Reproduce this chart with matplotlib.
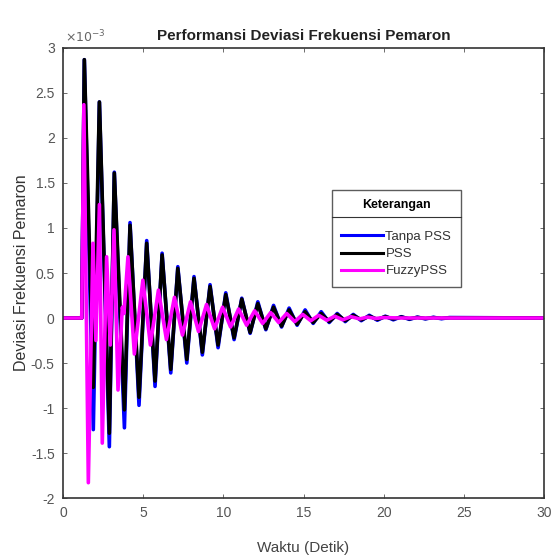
import matplotlib
matplotlib.use("Agg")
import matplotlib.pyplot as plt
from matplotlib.ticker import FuncFormatter
import numpy as np

# ---- data (values in units of 1e-3) ----
t_base = [0, 1.17, 1.33, 1.89, 2.27, 2.89, 3.20, 3.83, 4.18, 4.74, 5.22, 5.74, 6.18, 6.72,
          7.16, 7.72, 8.17, 8.69, 9.17, 9.67, 10.15, 10.67, 11.15, 11.67, 12.15, 12.65,
          13.13, 13.63, 14.10, 14.60, 15.10, 15.60, 16.10, 16.60, 17.10, 17.60, 18.10,
          18.60, 19.10, 19.60, 20.10, 20.60, 21.10, 21.60, 22.10, 22.60, 23.10, 23.60,
          24.10, 30.0]
tanpa_pss = [0, 0, 2.87, -1.24, 2.40, -1.43, 1.62, -1.22, 1.06, -0.97, 0.86, -0.76, 0.72, -0.61,
             0.57, -0.50, 0.46, -0.41, 0.37, -0.33, 0.28, -0.24, 0.22, -0.17, 0.18, -0.13,
             0.14, -0.10, 0.11, -0.08, 0.09, -0.06, 0.07, -0.05, 0.05, -0.04, 0.04,
             -0.03, 0.03, -0.025, 0.02, -0.02, 0.015, -0.015, 0.01, -0.01, 0.008, -0.008,
             0.005, 0]
pss = [0, 0, 2.87, -0.77, 2.40, -1.28, 1.61, -1.02, 1.03, -0.88, 0.83, -0.70, 0.70, -0.57,
       0.55, -0.46, 0.44, -0.38, 0.35, -0.30, 0.26, -0.22, 0.21, -0.16, 0.16, -0.12,
       0.12, -0.09, 0.09, -0.07, 0.07, -0.05, 0.05, -0.04, 0.04, -0.03, 0.03,
       -0.02, 0.02, -0.015, 0.015, -0.01, 0.01, -0.008, 0.006, -0.005, 0.004, -0.003,
       0.002, 0]
t_fuzzy = [0, 1.17, 1.30, 1.58, 1.87, 2.05, 2.27, 2.45, 2.72, 2.95, 3.18, 3.43, 3.70, 3.80,
           4.05, 4.45, 4.98, 5.45, 5.95, 6.45, 6.95, 7.45, 7.95, 8.45, 8.95, 9.45, 9.95,
           10.45, 10.95, 11.45, 11.95, 12.45, 12.95, 13.45, 13.95, 14.45, 14.95, 15.45,
           15.95, 16.45, 16.95, 17.45, 17.95, 18.50, 19.00, 19.50, 20.00, 21.00, 30.0]
fuzzy_pss = [0, 0, 2.37, -1.83, 0.83, -0.25, 1.26, -1.39, 0.68, -0.30, 0.98, -0.80, 0.12, 0.05,
             0.68, -0.40, 0.42, -0.30, 0.31, -0.24, 0.23, -0.19, 0.18, -0.15, 0.15, -0.12, 0.12,
             -0.10, 0.10, -0.08, 0.08, -0.06, 0.06, -0.05, 0.05, -0.04, 0.04, -0.03,
             0.03, -0.025, 0.02, -0.02, 0.015, -0.01, 0.01, -0.005, 0.005, 0, 0]

series_names = ["Tanpa PSS", "PSS", "FuzzyPSS"]
x_ticks = [0, 5, 10, 15, 20, 25, 30]
y_ticks = [-2, -1.5, -1, -0.5, 0, 0.5, 1, 1.5, 2, 2.5, 3]

plt.rcParams["font.family"] = ["Liberation Sans", "DejaVu Sans"]

fig = plt.figure(figsize=(5.59, 5.58), dpi=100)
ax = fig.add_axes([0.1127, 0.1075, 0.8606, 0.8065])

ax.plot(t_base, tanpa_pss, color="#0000ff", lw=2.6, label=series_names[0])
ax.plot(t_base, pss, color="#000000", lw=2.6, label=series_names[1])
ax.plot(t_fuzzy, fuzzy_pss, color="#ff00ff", lw=2.6, label=series_names[2])

ax.set_xlim(0, 30)
ax.set_ylim(-2, 3)
ax.set_xticks(x_ticks)
ax.set_yticks(y_ticks)
ax.yaxis.set_major_formatter(FuncFormatter(lambda v, p: "%g" % v))
ax.tick_params(direction="in", top=True, right=True, length=3, width=0.6,
               colors="#555555", labelcolor="#555555", labelsize=10, pad=6)
for s in ax.spines.values():
    s.set_color("#333333")
    s.set_linewidth(1.2)

ax.text(0.005, 1.005, r"$\times10^{-3}$", transform=ax.transAxes, fontsize=9,
        color="#666666", ha="left", va="bottom")
ax.set_title("Performansi Deviasi Frekuensi Pemaron", fontsize=11, fontweight="bold",
             color="#222222", pad=6)
ax.set_xlabel("Waktu (Detik)", fontsize=11, color="#444444", labelpad=15)
ax.set_ylabel("Deviasi Frekuensi Pemaron", fontsize=11.5, color="#333333", labelpad=1)

leg = ax.legend(title="Keterangan", loc="upper left",
                bbox_to_anchor=((332 - 63) / 481, (498 - 190) / 450),
                frameon=True, fancybox=False, edgecolor="#333333", fontsize=9.5,
                title_fontproperties={"size": 9, "weight": "bold"},
                handlelength=3.2, handletextpad=0.15, borderpad=0.7,
                labelspacing=0.38, borderaxespad=0)
leg.get_frame().set_linewidth(1.0)
leg._legend_box.sep = 14
for line in leg.get_lines():
    line.set_linewidth(2.2)
for txt in leg.get_texts():
    txt.set_color("#333333")

fig.canvas.draw()
bb = leg.get_window_extent()
# separator line under the legend title
sep_y = leg.get_title().get_window_extent().y0 - 6
fig.add_artist(plt.Line2D([bb.x0 / fig.bbox.width, bb.x1 / fig.bbox.width],
                          [sep_y / fig.bbox.height] * 2, color="#333333", lw=0.8))

fig.savefig("out.png", dpi=100)
